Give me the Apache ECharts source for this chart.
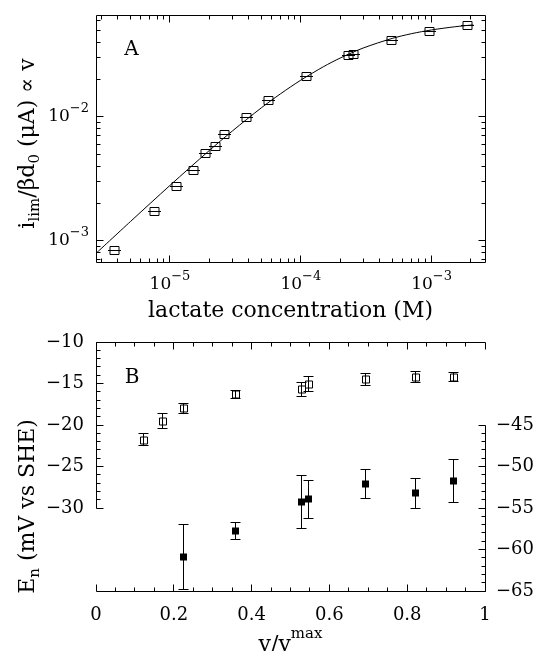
<!DOCTYPE html>
<html><head><meta charset="utf-8">
<script src="https://cdn.jsdelivr.net/npm/echarts@6/dist/echarts.min.js"></script>
<style>html,body{margin:0;padding:0;background:#fff}#c{width:540px;height:651px}</style>
</head><body><div id="c"></div>
<script>
// ---------- Panel A data ----------
const concM = [3.75e-6, 7.55e-6, 1.125e-5, 1.51e-5, 1.86e-5, 2.21e-5, 2.59e-5, 3.86e-5, 5.64e-5, 1.11e-4, 2.31e-4, 2.55e-4, 4.98e-4, 9.72e-4, 1.89e-3];
const iLim = [8.26e-4, 1.73e-3, 2.72e-3, 3.67e-3, 5.07e-3, 5.73e-3, 7.12e-3, 9.9e-3, 1.34e-2, 2.12e-2, 3.1e-2, 3.2e-2, 4.13e-2, 4.85e-2, 5.45e-2];
// fitted curve
const fitConc = [2.72e-6, 5e-6, 1e-5, 2e-5, 3e-5, 5e-5, 7e-5, 1e-4, 1.5e-4, 2e-4, 3e-4, 5e-4, 7e-4, 1e-3, 1.5e-3, 2.08e-3];
const fitI = [7.9e-4, 1.43e-3, 2.79e-3, 5.34e-3, 7.67e-3, 1.18e-2, 1.53e-2, 1.97e-2, 2.54e-2, 2.97e-2, 3.58e-2, 4.28e-2, 4.67e-2, 5.01e-2, 5.31e-2, 5.50e-2];
const xMajorA = [1e-5, 1e-4, 1e-3];
const yMajorA = [1e-3, 1e-2];

// ---------- Panel B data ----------
const vRatio = [0.122, 0.170, 0.226, 0.359, 0.527, 0.546, 0.694, 0.821, 0.918];
const openE = [-21.75, -19.55, -18.0, -16.3, -15.7, -15.1, -14.5, -14.2, -14.2];
const openErr = [0.75, 0.9, 0.6, 0.5, 0.85, 0.9, 0.7, 0.7, 0.55];
const filledV = [0.226, 0.359, 0.527, 0.546, 0.694, 0.821, 0.918];
const filledE = [-60.9, -57.8, -54.26, -53.94, -52.13, -53.25, -51.73];
const filledErr = [3.95, 1.0, 3.2, 2.3, 1.75, 1.75, 2.6];
const xLabelsB = [0, 0.2, 0.4, 0.6, 0.8, 1];
const leftLabelsB = [-10, -15, -20, -25, -30];
const rightLabelsB = [-45, -50, -55, -60, -65];

// ---------- layout ----------
const F = 'DejaVu Serif';
const AX = {min: 2.72e-6, max: 2.56e-3};
const AY = {min: 6.73e-4, max: 0.0661};
const BX = {min: 0, max: 1};
const BL = {min: -40, max: -10, spineLow: -30};
const BR = {min: -65, max: -35, spineHigh: -45};

// tick lists
const xTicksA = [], yTicksA = [];
for (let n = -6; n <= -3; n++) for (let k = 1; k <= 9; k++) {
  const v = k * Math.pow(10, n);
  if (v >= AX.min && v <= AX.max) xTicksA.push({v, major: k === 1});
}
for (let n = -4; n <= -1; n++) for (let k = 1; k <= 9; k++) {
  const v = k * Math.pow(10, n);
  if (v >= AY.min && v <= AY.max) yTicksA.push({v, major: k === 1});
}
const xTicksB = [], lTicksB = [], rTicksB = [];
for (let i = 0; i <= 20; i++) xTicksB.push({v: i * 0.05, major: i % 4 === 0});
for (let v = BL.spineLow; v <= BL.max; v++) lTicksB.push({v, major: v % 5 === 0});
for (let v = BR.min; v <= BR.spineHigh; v++) rTicksB.push({v, major: v % 5 === 0});

const px = v => Math.round(v - 0.5) + 0.5;
const lineEl = (x1, y1, x2, y2) => ({type: 'line', shape: {x1, y1, x2, y2}, style: {stroke: '#000', lineWidth: 1}});

function frameA(params, api) {
  const ch = [];
  const tl = api.coord([AX.min, AY.max]), br = api.coord([AX.max, AY.min]);
  const x0 = px(tl[0]), x1 = px(br[0]), y0 = px(tl[1]), y1 = px(br[1]);
  ch.push({type: 'rect', shape: {x: x0, y: y0, width: x1 - x0, height: y1 - y0}, style: {fill: 'none', stroke: '#000', lineWidth: 1}});
  xTicksA.forEach(t => {
    const x = px(api.coord([t.v, AY.min])[0]); const L = t.major ? 7 : 4;
    ch.push(lineEl(x, y1, x, y1 - L)); ch.push(lineEl(x, y0, x, y0 + L));
  });
  yTicksA.forEach(t => {
    const y = px(api.coord([AX.min, t.v])[1]); const L = t.major ? 7 : 4;
    ch.push(lineEl(x0, y, x0 + L, y)); ch.push(lineEl(x1, y, x1 - L, y));
  });
  return {type: 'group', children: ch};
}
function frameBLeft(params, api) {
  const ch = [];
  const tl = api.coord([BX.min, BL.max]), br = api.coord([BX.max, BL.min]);
  const x0 = px(tl[0]), x1 = px(br[0]), y0 = px(tl[1]), y1 = px(br[1]);
  const yl = px(api.coord([BX.min, BL.spineLow])[1]);
  ch.push(lineEl(x0, y0, x1, y0));
  ch.push(lineEl(x0, y1, x1, y1));
  ch.push(lineEl(x0, y0, x0, yl));
  xTicksB.forEach(t => {
    const x = px(api.coord([t.v, BL.min])[0]); const L = t.major ? 7 : 4;
    ch.push(lineEl(x, y1, x, y1 - L)); ch.push(lineEl(x, y0, x, y0 + L));
  });
  lTicksB.forEach(t => {
    const y = px(api.coord([BX.min, t.v])[1]); const L = t.major ? 7 : 4;
    ch.push(lineEl(x0, y, x0 + L, y));
  });
  return {type: 'group', children: ch};
}
function frameBRight(params, api) {
  const ch = [];
  const top = api.coord([BX.max, BR.spineHigh]), bot = api.coord([BX.max, BR.min]);
  const x1 = px(top[0]);
  ch.push(lineEl(x1, px(top[1]), x1, px(bot[1])));
  rTicksB.forEach(t => {
    const y = px(api.coord([BX.max, t.v])[1]); const L = t.major ? 7 : 4;
    ch.push(lineEl(x1, y, x1 - L, y));
  });
  return {type: 'group', children: ch};
}
function squareA(params, api) {
  const c = api.coord([api.value(0), api.value(1)]);
  const cx = px(c[0]), cy = px(c[1]);
  return {type: 'group', children: [
    {type: 'rect', shape: {x: cx - 4.5, y: cy - 4, width: 9, height: 8}, style: {fill: 'none', stroke: '#000', lineWidth: 1}},
    lineEl(cx - 6.5, cy, cx + 6.5, cy)
  ]};
}
function errSquare(filled) {
  return function (params, api) {
    const x = api.value(0), y = api.value(1), e = api.value(2);
    const c = api.coord([x, y]), hi = api.coord([x, y + e]), lo = api.coord([x, y - e]);
    const cx = px(c[0]), cy = Math.round(c[1]);
    const yh = px(hi[1]), yl = px(lo[1]);
    const ch = [lineEl(cx, yh, cx, yl), lineEl(cx - 5, yh, cx + 5, yh), lineEl(cx - 5, yl, cx + 5, yl)];
    if (filled) ch.push({type: 'rect', shape: {x: cx - 3.5, y: cy - 3.5, width: 7, height: 7}, style: {fill: '#000', stroke: null}});
    else ch.push({type: 'rect', shape: {x: cx - 3, y: cy - 3, width: 7, height: 7}, style: {fill: 'none', stroke: '#000', lineWidth: 1}});
    return {type: 'group', children: ch};
  };
}

const minus = v => (v < 0 ? '\u2212' + (-v) : String(v));
function logLabel(v) {
  const e = Math.log10(v), r = Math.round(e);
  if (Math.abs(e - r) > 1e-6) return '';
  return '{b|10}{s|' + minus(r) + '}';
}
const logRich = {
  b: {fontFamily: F, fontSize: 17, lineHeight: 30, color: '#000'},
  s: {fontFamily: F, fontSize: 13, lineHeight: 12, verticalAlign: 'top', color: '#000'}
};
const hidden = {axisLine: {show: false}, axisTick: {show: false}, splitLine: {show: false}};

const chart = echarts.init(document.getElementById('c'), null, {renderer: 'canvas'});
chart.setOption({
  animation: false,
  backgroundColor: '#fff',
  grid: [
    {left: 96, top: 15, width: 389, height: 247},
    {left: 96, top: 342, width: 389, height: 249}
  ],
  xAxis: [
    Object.assign({type: 'log', gridIndex: 0, logBase: 10, min: AX.min, max: AX.max,
      axisLabel: {formatter: logLabel, rich: logRich, margin: 8, showMinLabel: false, showMaxLabel: false}}, hidden),
    Object.assign({type: 'value', gridIndex: 1, min: BX.min, max: BX.max, interval: 0.2,
      axisLabel: {formatter: v => (xLabelsB.some(l => Math.abs(l - v) < 1e-9) ? String(v) : ''), fontFamily: F, fontSize: 18, lineHeight: 18, color: '#000', margin: 15}}, hidden)
  ],
  yAxis: [
    Object.assign({type: 'log', gridIndex: 0, logBase: 10, min: AY.min, max: AY.max,
      axisLabel: {formatter: logLabel, rich: logRich, margin: 7, showMinLabel: false, showMaxLabel: false}}, hidden),
    Object.assign({type: 'value', gridIndex: 1, position: 'left', min: BL.min, max: BL.max, interval: 5,
      axisLabel: {formatter: v => (leftLabelsB.indexOf(v) >= 0 ? minus(v) : ''), fontFamily: F, fontSize: 18, color: '#000', margin: 12}}, hidden),
    Object.assign({type: 'value', gridIndex: 1, position: 'right', min: BR.min, max: BR.max, interval: 5,
      axisLabel: {formatter: v => (rightLabelsB.indexOf(v) >= 0 ? minus(v) : ''), fontFamily: F, fontSize: 18, color: '#000', margin: 11}}, hidden)
  ],
  series: [
    {type: 'line', xAxisIndex: 0, yAxisIndex: 0, data: fitConc.map((x, i) => [x, fitI[i]]), smooth: 0.3,
      showSymbol: false, symbol: 'none', lineStyle: {color: '#000', width: 1}, silent: true},
    {type: 'custom', xAxisIndex: 0, yAxisIndex: 0, renderItem: squareA, data: concM.map((x, i) => [x, iLim[i]]), silent: true},
    {type: 'custom', xAxisIndex: 0, yAxisIndex: 0, renderItem: frameA, data: [[1e-5, 1e-2]], clip: false, silent: true},
    {type: 'custom', xAxisIndex: 1, yAxisIndex: 1, renderItem: errSquare(false), data: vRatio.map((x, i) => [x, openE[i], openErr[i]]), silent: true},
    {type: 'custom', xAxisIndex: 1, yAxisIndex: 2, renderItem: errSquare(true), data: filledV.map((x, i) => [x, filledE[i], filledErr[i]]), silent: true},
    {type: 'custom', xAxisIndex: 1, yAxisIndex: 1, renderItem: frameBLeft, data: [[0.5, -20]], clip: false, silent: true},
    {type: 'custom', xAxisIndex: 1, yAxisIndex: 2, renderItem: frameBRight, data: [[0.5, -50]], clip: false, silent: true}
  ],
  graphic: [
    {type: 'text', x: 131.5, y: 50, silent: true, style: {text: 'A', font: '20px "DejaVu Serif"', fill: '#000', textAlign: 'center', textVerticalAlign: 'middle', align: 'center', verticalAlign: 'middle'}},
    {type: 'text', x: 132, y: 377.5, silent: true, style: {text: 'B', font: '20px "DejaVu Serif"', fill: '#000', textAlign: 'center', textVerticalAlign: 'middle', align: 'center', verticalAlign: 'middle'}},
    {type: 'text', x: 290.5, y: 311, silent: true, style: {text: 'lactate concentration (M)', font: '22px "DejaVu Serif"', fill: '#000', textAlign: 'center', textVerticalAlign: 'middle', align: 'center', verticalAlign: 'middle'}},
    {type: 'text', x: 28, y: 143.5, rotation: Math.PI / 2, silent: true, style: {
      text: '{m|i}{d|lim}{m|/\u03b2d}{d|0}{m| (\u03bcA) \u221d v}', fill: '#000',
      textAlign: 'center', textVerticalAlign: 'middle', align: 'center', verticalAlign: 'middle',
      rich: {m: {fontFamily: F, fontSize: 22, lineHeight: 30, color: '#000'}, d: {fontFamily: F, fontSize: 15, lineHeight: 14, verticalAlign: 'bottom', color: '#000'}}}},
    {type: 'text', x: 28, y: 506.5, rotation: Math.PI / 2, silent: true, style: {
      text: '{m|E}{d|n}{m| (mV vs SHE)}', fill: '#000',
      textAlign: 'center', textVerticalAlign: 'middle', align: 'center', verticalAlign: 'middle',
      rich: {m: {fontFamily: F, fontSize: 22, lineHeight: 30, color: '#000'}, d: {fontFamily: F, fontSize: 15, lineHeight: 14, verticalAlign: 'bottom', color: '#000'}}}},
    {type: 'text', x: 290.5, y: 645, silent: true, style: {
      text: '{m|v/v}{s|max}', fill: '#000',
      textAlign: 'center', textVerticalAlign: 'middle', align: 'center', verticalAlign: 'middle',
      rich: {m: {fontFamily: F, fontSize: 22, lineHeight: 37, color: '#000'}, s: {fontFamily: F, fontSize: 15, lineHeight: 15, verticalAlign: 'top', color: '#000'}}}}
  ]
});
</script></body></html>
